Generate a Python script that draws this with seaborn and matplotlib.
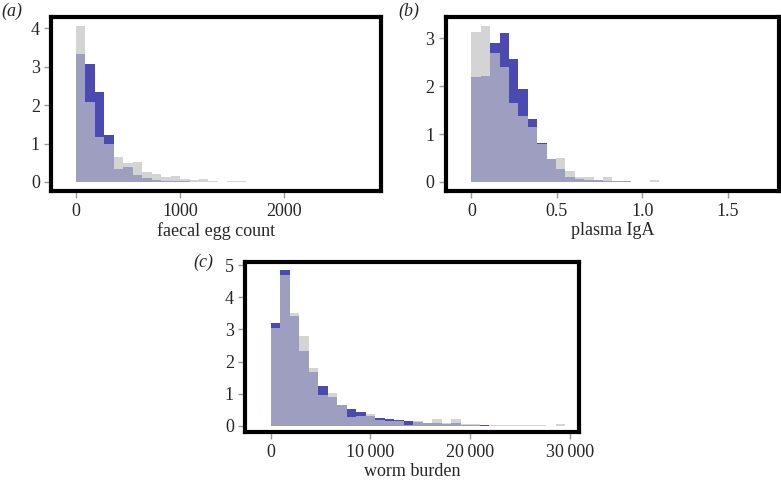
import numpy as np
import pandas as pd
import matplotlib
matplotlib.use("Agg")
import matplotlib.pyplot as plt
import seaborn as sns

# ---------------- data ----------------
fec_width = 91.0
fec_grey = [4.05, 2.07, 1.18, 0.99, 0.64, 0.50, 0.53, 0.27, 0.22, 0.13, 0.16, 0.08,
            0.04, 0.09, 0.02, 0.0, 0.02, 0.02, 0.01, 0.0, 0.0, 0.0, 0.0, 0.01,
            0.01, 0.0, 0.01, 0.0, 0.0, 0.0, 0.01]
fec_blue = [3.33, 3.06, 2.35, 1.22, 0.34, 0.40, 0.18, 0.10, 0.06, 0.03, 0.03, 0.02,
            0.01, 0.01, 0.01, 0.0, 0.01, 0.01, 0.0, 0.0, 0.0, 0.0, 0.0, 0.0,
            0.0, 0.0, 0.0, 0.0, 0.0, 0.0, 0.0]

iga_width = 0.055
iga_grey = [3.12, 3.25, 2.69, 2.39, 1.64, 1.38, 1.14, 0.79, 0.48, 0.49, 0.22, 0.11,
            0.11, 0.04, 0.11, 0.02, 0.01, 0.0, 0.0, 0.04, 0.0, 0.0, 0.0, 0.0,
            0.0, 0.0, 0.0, 0.0, 0.0, 0.0, 0.0]
iga_blue = [2.19, 2.21, 2.89, 3.10, 2.57, 1.93, 1.32, 0.82, 0.47, 0.27, 0.11, 0.06,
            0.035, 0.035, 0.02, 0.01, 0.01, 0.0, 0.0, 0.0, 0.0, 0.0, 0.0, 0.0,
            0.0, 0.0, 0.0, 0.0, 0.0, 0.0, 0.0]

worm_width = 953.0
worm_grey = [3.06, 4.69, 3.51, 2.79, 1.79, 0.95, 1.02, 0.66, 0.27, 0.31, 0.37, 0.19,
             0.17, 0.15, 0.04, 0.17, 0.10, 0.23, 0.08, 0.23, 0.06, 0.05, 0.01, 0.02,
             0.02, 0.02, 0.02, 0.02, 0.02, 0.0, 0.06]
worm_blue = [3.21, 4.84, 3.42, 2.33, 1.68, 1.24, 0.91, 0.65, 0.53, 0.44, 0.31, 0.25,
             0.21, 0.19, 0.15, 0.12, 0.08, 0.10, 0.06, 0.08, 0.04, 0.03, 0.03, 0.01,
             0.01, 0.01, 0.0, 0.0, 0.0, 0.0, 0.0]

panel_labels = ["(a)", "(b)", "(c)"]
x_labels = ["faecal egg count", "plasma IgA", "worm burden"]
fec_xticks = [0, 1000, 2000]
fec_xticklabels = ["0", "1000", "2000"]
iga_xticks = [0, 0.5, 1.0, 1.5]
iga_xticklabels = ["0", "0.5", "1.0", "1.5"]
worm_xticks = [0, 10000, 20000, 30000]
worm_xticklabels = ["0", "10\u2009000", "20\u2009000", "30\u2009000"]
fec_yticks = [0, 1, 2, 3, 4]
iga_yticks = [0, 1, 2, 3]
worm_yticks = [0, 1, 2, 3, 4, 5]

GREY = "#d4d4d4"
BLUE = "#4a4ab2"
LAV = "#9e9ec0"
FS = 13

sns.set_style("white")
plt.rcParams["font.family"] = ["Liberation Serif", "DejaVu Serif"]

fig = plt.figure(figsize=(7.81, 4.83), dpi=100)
ax_a = fig.add_axes([0.0653, 0.6046, 0.4225, 0.3602])
ax_b = fig.add_axes([0.5707, 0.6046, 0.4268, 0.3602])
ax_c = fig.add_axes([0.3137, 0.1050, 0.4273, 0.3520])


def draw(ax, width, grey, blue, xlim, ylim, xticks, xticklabels, yticks, xlabel):
    n = len(grey)
    edges = [float(i * width) for i in range(n + 1)]
    centers = [e + width / 2 for e in edges[:-1]]
    df = pd.DataFrame({"x": centers, "grey": grey, "blue": blue})
    df["both"] = np.minimum(df["grey"], df["blue"])
    for col, c in [("grey", GREY), ("blue", BLUE), ("both", LAV)]:
        sns.histplot(data=df, x="x", weights=col, bins=edges, ax=ax, color=c,
                     alpha=1, linewidth=0, element="bars", fill=True)
    ax.set_xlim(*xlim)
    ax.set_ylim(*ylim)
    ax.set_xticks(xticks)
    ax.set_xticklabels(xticklabels)
    ax.set_yticks(yticks)
    ax.set_ylabel("")
    ax.set_xlabel(xlabel, fontsize=FS, labelpad=1.5)
    for s in ax.spines.values():
        s.set_visible(True)
        s.set_linewidth(3)
        s.set_color("black")
    ax.tick_params(axis="both", which="major", direction="out", length=5,
                   width=1, color="#999999", labelsize=FS, pad=3,
                   bottom=True, left=True)
    ax.tick_params(axis="x", pad=3.5)


draw(ax_a, fec_width, fec_grey, fec_blue, (-240, 2933), (-0.234, 4.29),
     fec_xticks, fec_xticklabels, fec_yticks, x_labels[0])
draw(ax_b, iga_width, iga_grey, iga_blue, (-0.150, 1.80), (-0.188, 3.44),
     iga_xticks, iga_xticklabels, iga_yticks, x_labels[1])
draw(ax_c, worm_width, worm_grey, worm_blue, (-2578, 30893), (-0.196, 5.09),
     worm_xticks, worm_xticklabels, worm_yticks, x_labels[2])

fig.text(1 / 781, 1 - 11 / 483, panel_labels[0], fontsize=FS, style="italic",
         va="center", ha="left")
fig.text(398 / 781, 1 - 11 / 483, panel_labels[1], fontsize=FS, style="italic",
         va="center", ha="left")
fig.text(193 / 781, 1 - 262 / 483, panel_labels[2], fontsize=FS, style="italic",
         va="center", ha="left")

fig.savefig("out.png", dpi=100)
